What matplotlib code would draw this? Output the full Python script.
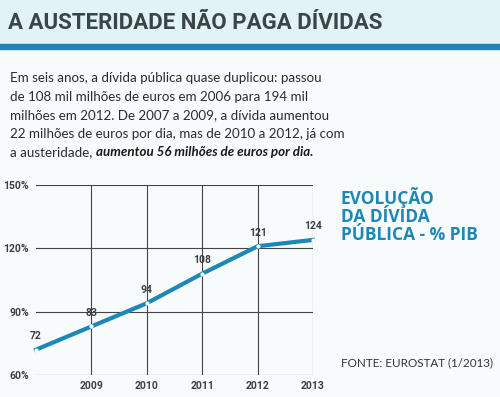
import matplotlib.pyplot as plt
import matplotlib.patches as mpatches

# dados
anos = [2008, 2009, 2010, 2011, 2012, 2013]
divida = [72, 83, 94, 108, 121, 124]
yticks = [60, 90, 120, 150]
xticks = [2009, 2010, 2011, 2012, 2013]

titulo = 'A AUSTERIDADE NÃO PAGA DÍVIDAS'
texto = ['Em seis anos, a dívida pública quase duplicou: passou',
         'de 108 mil milhões de euros em 2006 para 194 mil',
         'milhões em 2012. De 2007 a 2009, a dívida aumentou',
         '22 milhões de euros por dia, mas de 2010 a 2012, já com']
texto_ult = 'a austeridade, '
texto_bold = 'aumentou 56 milhões de euros por dia.'

azul = '#1d87b5'
cinza = '#3b3f40'

fig = plt.figure(figsize=(5.0, 3.97), dpi=100)
fig.patch.set_facecolor('#f7fbfc')

# faixa do titulo
fig.add_artist(mpatches.Rectangle((0, 1 - 44/397), 1, 44/397, transform=fig.transFigure,
                                  color='#e2f3f8', zorder=0))
fig.add_artist(mpatches.Rectangle((0, 1 - 49/397), 1, 5/397, transform=fig.transFigure,
                                  color=azul, zorder=1))
fig.text(8/500, 1 - 23/397, titulo, fontsize=16, fontweight='bold', color='#3a4546',
         family='Roboto', va='center', ha='left')

# paragrafo
fs = 9.6
for i, l in enumerate(texto):
    fig.text(10/500, 1 - (78 + i*18.6)/397, l, fontsize=fs, color='#2b2b2b',
             family='Lato', va='center')
t = fig.text(10/500, 1 - (78 + 4*18.6)/397, texto_ult, fontsize=fs, color='#2b2b2b',
             family='Lato', va='center')
fig.canvas.draw()
bb = t.get_window_extent()
fig.text(bb.x1/500, 1 - (78 + 4*18.6)/397, texto_bold, fontsize=fs, color='#1a1a1a',
         family='Lato', fontweight='bold', style='italic', va='center')

# grafico
ax = fig.add_axes([36/500, 22/397, 277/500, 190/397])
ax.set_facecolor('none')
ax.set_xlim(2008, 2013)
ax.set_ylim(60, 150)
for s in ax.spines.values():
    s.set_visible(False)
for y in yticks:
    ax.axhline(y, color='#444444', lw=0.8, zorder=1)
for x in xticks:
    ax.axvline(x, color='#444444', lw=0.8, zorder=1)
ax.plot(anos, divida, color=azul, lw=3, zorder=3, clip_on=False)
ax.plot(anos, divida, 'o', color='white', ms=3, mec='none', zorder=4, clip_on=False)
for x, v in zip(anos, divida):
    ax.text(x, v + 4, str(v), ha='center', va='bottom', fontsize=7.5, fontweight='bold',
            color=cinza, family='Roboto')
ax.set_yticks(yticks)
ax.set_yticklabels([f'{v}%' for v in yticks])
ax.set_xticks(xticks)
ax.set_xticklabels([str(v) for v in xticks])
ax.tick_params(length=0, labelsize=7.5, colors=cinza)
ax.tick_params(axis='y', pad=5)
ax.tick_params(axis='x', pad=4)
for lab in ax.get_xticklabels() + ax.get_yticklabels():
    lab.set_fontweight('bold')
    lab.set_family('Roboto')

# titulo do grafico
fig.text(341/500, 1 - 215/397, 'EVOLUÇÃO\nDA DÍVIDA\nPÚBLICA - % PIB', fontsize=12.5,
         fontweight='bold', color=azul, family='Open Sans', va='center', ha='left',
         linespacing=1.0)
fig.text(341/500, 1 - 363/397, 'FONTE: EUROSTAT (1/2013)', fontsize=8.4, color='#333333',
         family='Lato', va='center', ha='left')

fig.savefig('out.png', dpi=100, facecolor=fig.get_facecolor())
